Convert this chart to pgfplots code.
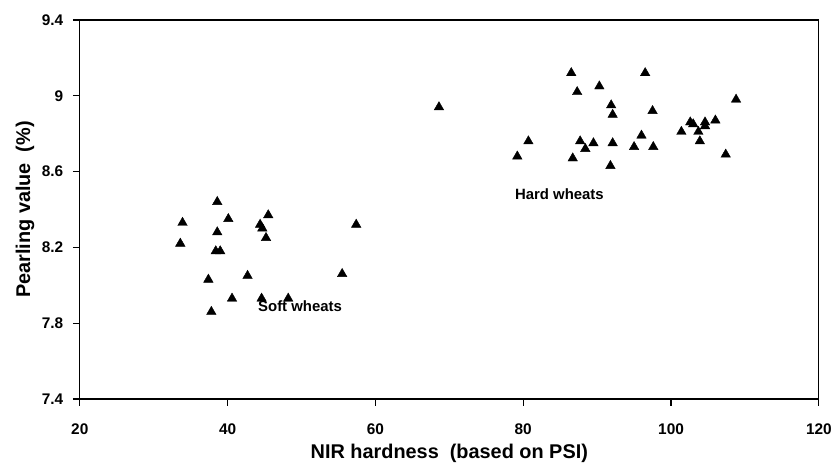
\documentclass[border=0pt]{standalone}
\usepackage{pgfplots}
\pgfplotsset{compat=1.18}
\usepackage{fontspec}
\setmainfont{Liberation Sans}
\begin{document}
\begin{tikzpicture}[x=1bp,y=1bp]
\begin{axis}[
    name=ax,
    scale only axis,
    width=741bp,
    height=380bp,
    xmin=20, xmax=120,
    ymin=7.4, ymax=9.4,
    xtick={20,40,60,80,100,120},
    ytick={7.4,7.8,8.2,8.6,9.0,9.4},
    tick align=outside,
    xtick pos=bottom,
    ytick pos=left,
    major tick length=7bp,
    axis line style={line width=1.2pt},
    every tick/.style={black,line width=1.2pt},
    /pgf/number format/assume math mode=true,
    ticklabel style={font=\fontsize{15.5}{18}\selectfont\bfseries},
    xticklabel style={yshift=-14bp},
    yticklabel style={xshift=-6bp},
    xlabel={NIR hardness\ \ (based on PSI)},
    ylabel={Pearling value\ \ (\%)},
    label style={font=\fontsize{20}{24}\selectfont\bfseries},
    xlabel style={at={(axis description cs:0.5,0)},anchor=center,yshift=-55bp},
    ylabel style={at={(axis description cs:0,0.5)},anchor=center,yshift=55bp},
    clip=false,
]
% soft wheats
\addplot[only marks, mark=triangle*, mark size=5.5bp, black] coordinates {
    (38.6,8.44) (33.9,8.33) (40.1,8.35) (45.5,8.37) (44.4,8.32)
    (44.7,8.30) (57.4,8.32) (38.6,8.28) (45.2,8.25) (33.6,8.22)
    (38.4,8.18) (39.0,8.18) (37.4,8.03) (42.7,8.05) (55.5,8.06)
    (40.6,7.93) (44.6,7.93) (48.2,7.93) (37.8,7.86)
};
% hard wheats
\addplot[only marks, mark=triangle*, mark size=5.5bp, black] coordinates {
    (68.6,8.94)
    (86.5,9.12) (96.5,9.12) (87.3,9.02) (90.3,9.05) (91.9,8.95)
    (92.1,8.90) (97.5,8.92) (80.7,8.76) (79.2,8.68) (87.7,8.76)
    (88.4,8.72) (89.5,8.75) (92.1,8.75) (96.0,8.79) (95.0,8.73)
    (97.6,8.73) (86.7,8.67) (91.8,8.63) (101.4,8.81) (102.6,8.86)
    (103.0,8.85) (103.7,8.81) (103.9,8.76) (104.6,8.86) (104.6,8.84)
    (106.0,8.87) (108.8,8.98) (107.4,8.69)
};
\node[font=\fontsize{15}{18}\selectfont\bfseries] at (axis cs:84.9,8.48) {Hard wheats};
\node[font=\fontsize{15}{18}\selectfont\bfseries] at (axis cs:49.8,7.89) {Soft wheats};
\end{axis}
\path ([xshift=-80bp,yshift=-66bp]ax.south west) rectangle ([xshift=14bp,yshift=20bp]ax.north east);
\end{tikzpicture}
\end{document}
